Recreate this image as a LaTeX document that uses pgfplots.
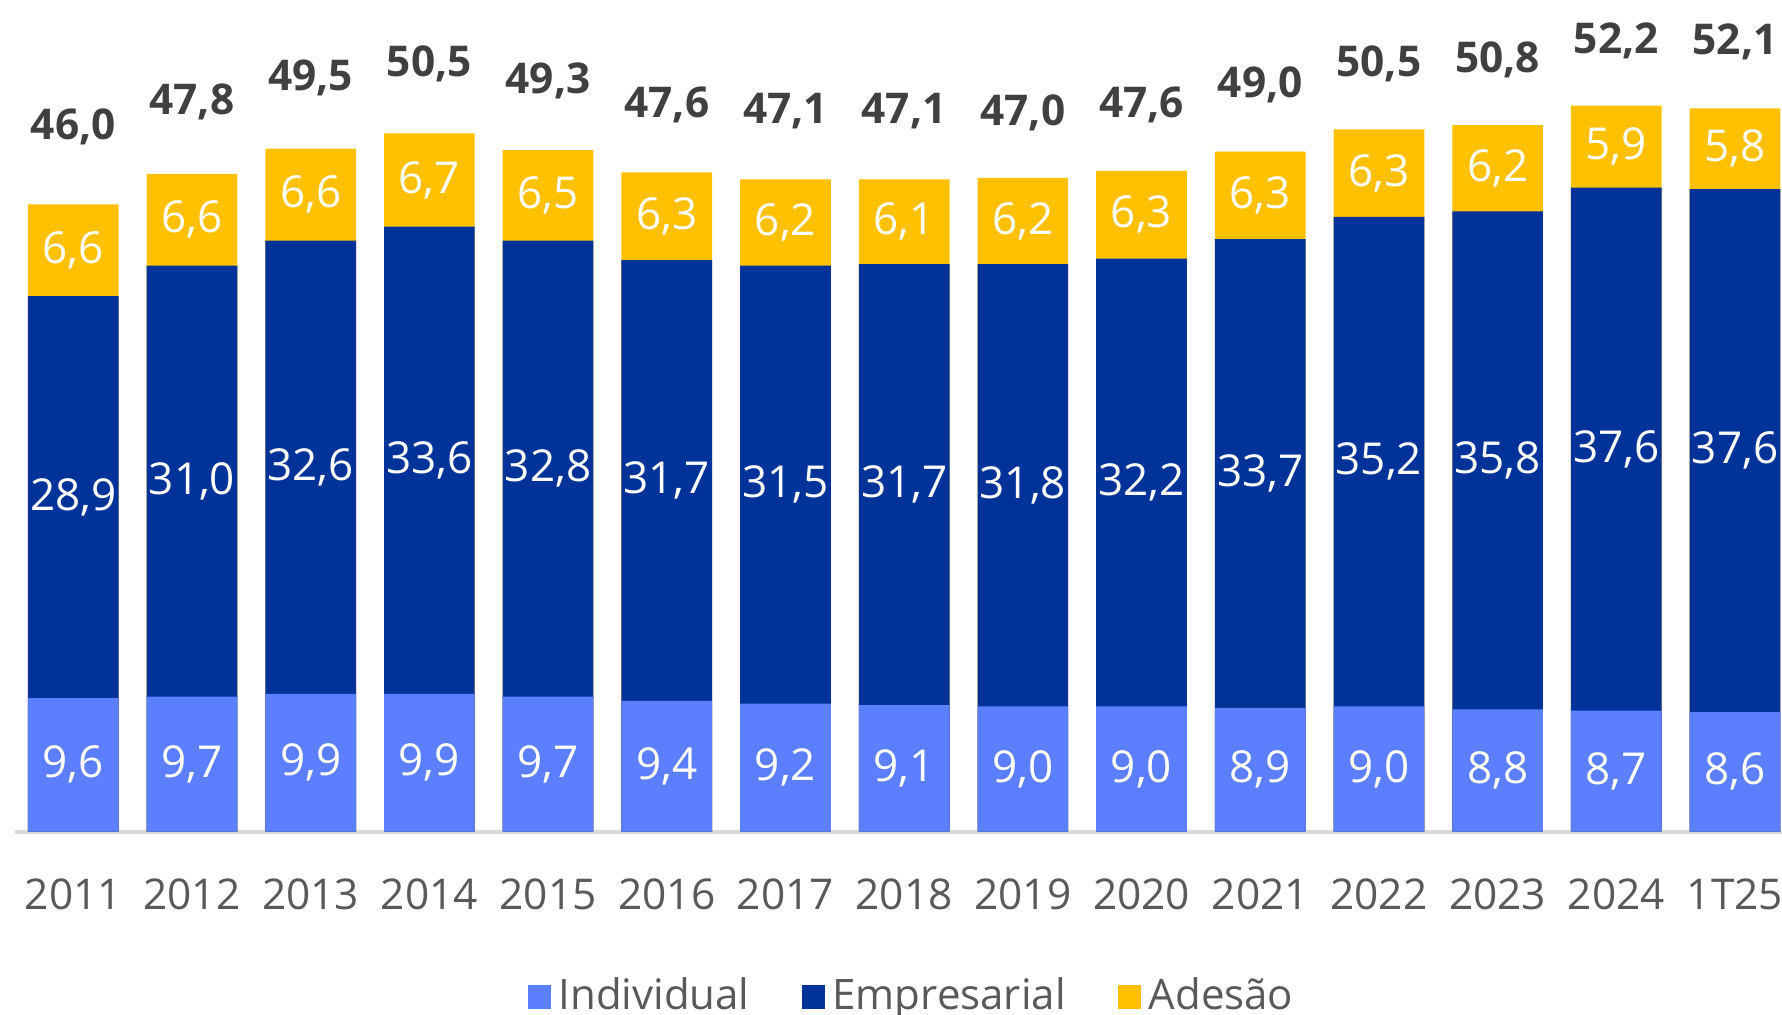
\documentclass[border=0pt]{standalone}
\usepackage{fontspec}
\setmainfont{Open Sans}
\usepackage{pgfplots}
\usepackage{pgfplotstable}
\pgfplotsset{compat=1.18}
\definecolor{indcol}{HTML}{5B7FFF}
\definecolor{empcol}{HTML}{003399}
\definecolor{adcol}{HTML}{FFC000}
\definecolor{totgray}{HTML}{404040}
\definecolor{tickgray}{HTML}{595959}
\definecolor{axgray}{HTML}{D9D9D9}
\pgfplotstableread{
x ind emp ad tot
0 9.6 28.9 6.6 46.0
1 9.7 31.0 6.6 47.8
2 9.9 32.6 6.6 49.5
3 9.9 33.6 6.7 50.5
4 9.7 32.8 6.5 49.3
5 9.4 31.7 6.3 47.6
6 9.2 31.5 6.2 47.1
7 9.1 31.7 6.1 47.1
8 9.0 31.8 6.2 47.0
9 9.0 32.2 6.3 47.6
10 8.9 33.7 6.3 49.0
11 9.0 35.2 6.3 50.5
12 8.8 35.8 6.2 50.8
13 8.7 37.6 5.9 52.2
14 8.6 37.6 5.8 52.1
}\data
\pgfplotsset{
  sqlegend/.style={legend image code/.code={\fill[##1] (0pt,-3pt) rectangle (5.75pt,3pt);}},
  barsty/.style={ybar, bar shift=0pt, bar width=0.764, draw=none, sqlegend},
  lblsty/.style={draw=none, mark=none, forget plot, nodes near coords, point meta=explicit,
    every node near coord/.append style={anchor=center, text=white, font=\fontsize{11pt}{13pt}\selectfont, inner sep=0pt}},
}
\begin{document}
\begin{tikzpicture}
\begin{scope}
\clip (0,0) rectangle (445.5pt,253.75pt);
\begin{axis}[
  at={(3.78pt,45.83pt)}, anchor=south west,
  scale only axis, width=441.7pt, height=207.9pt,
  xmin=-0.49, xmax=14.395, ymin=0, ymax=59.79,
  enlargelimits=false, clip=false,
  axis x line*=bottom, axis y line=none,
  x axis line style={draw=axgray, line width=1pt},
  xtick={0,...,14},
  xticklabels={2011,2012,2013,2014,2015,2016,2017,2018,2019,2020,2021,2022,2023,2024,1T25},
  major tick length=0pt,
  xticklabel style={anchor=center, yshift=-15.6pt, text=tickgray, font=\fontsize{10.6pt}{12pt}\selectfont},
  /pgf/number format/.cd, fixed, fixed zerofill, precision=1, use comma, assume math mode=true,
  /pgfplots/.cd,
  reverse legend,
  legend style={at={(0.509,-0.1988)}, anchor=center, draw=none, fill=none,
    legend columns=3, font=\fontsize{10.5pt}{12pt}\selectfont, text=tickgray,
    /tikz/every even column/.append style={column sep=11pt}},
]
\addplot[barsty, fill=adcol] table[x=x, y expr=\thisrow{ind}+\thisrow{emp}+\thisrow{ad}] {\data};
\addlegendentry{Adesão}
\addplot[barsty, fill=empcol] table[x=x, y expr=\thisrow{ind}+\thisrow{emp}] {\data};
\addlegendentry{Empresarial}
\addplot[barsty, fill=indcol] table[x=x, y=ind] {\data};
\addlegendentry{Individual}
\addplot[lblsty] table[x=x, y expr=\thisrow{ind}/2, meta=ind] {\data};
\addplot[lblsty] table[x=x, y expr=\thisrow{ind}+\thisrow{emp}/2, meta=emp] {\data};
\addplot[lblsty] table[x=x, y expr=\thisrow{ind}+\thisrow{emp}+\thisrow{ad}/2, meta=ad] {\data};
\addplot[lblsty, every node near coord/.append style={text=totgray, font=\bfseries\fontsize{10.6pt}{12pt}\selectfont, yshift=16.25pt}] table[x=x, y=tot, meta=tot] {\data};
\end{axis}
\end{scope}
\pgfresetboundingbox
\useasboundingbox (0,0) rectangle (445.5pt,253.75pt);
\end{tikzpicture}
\end{document}
